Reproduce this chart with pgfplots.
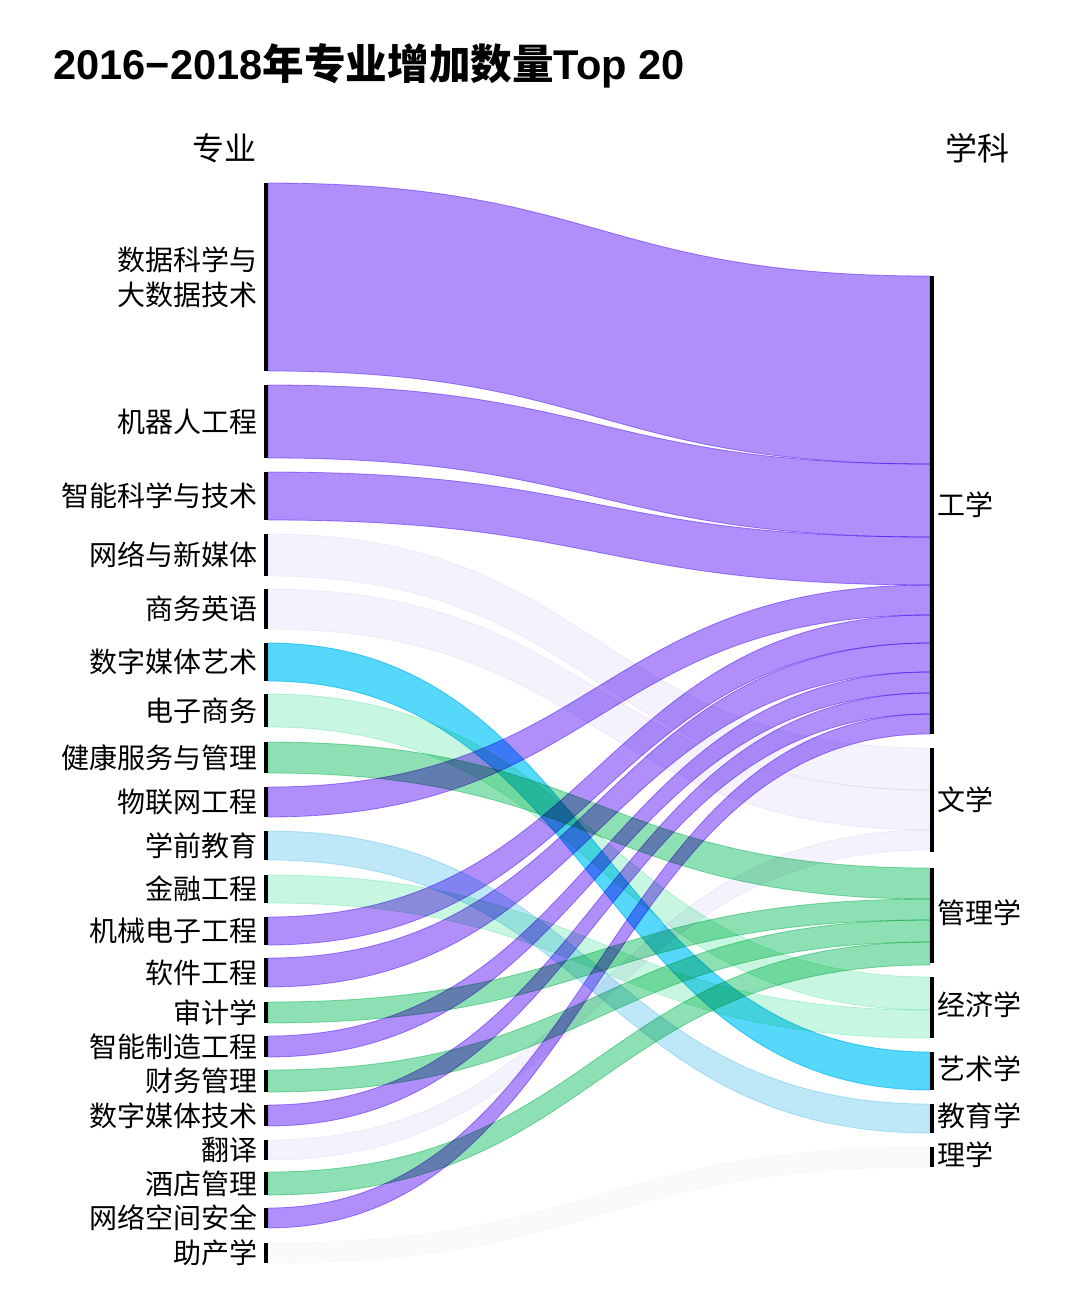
\documentclass[border=0pt]{standalone}
\usepackage{pgfplots}
\pgfplotsset{compat=1.18}
\usepgfplotslibrary{patchplots}
\usepackage{fontspec}
\setmainfont{Noto Sans CJK SC}
\newfontfamily\latinfont{Liberation Sans}

\definecolor{cgong}{HTML}{B08FFA}
\definecolor{cwen}{HTML}{F4F2FC}
\definecolor{cguan}{HTML}{8DE0B3}
\definecolor{cjing}{HTML}{C8F7E1}
\definecolor{cyi}{HTML}{56D8FA}
\definecolor{cjiao}{HTML}{BEE8F8}
\definecolor{cli}{HTML}{FAFAFC}

\pgfplotsset{
  colormap={mgong}{color=(cgong) color=(cgong)},
  colormap={mwen}{color=(cwen) color=(cwen)},
  colormap={mguan}{color=(cguan) color=(cguan)},
  colormap={mjing}{color=(cjing) color=(cjing)},
  colormap={myi}{color=(cyi) color=(cyi)},
  colormap={mjiao}{color=(cjiao) color=(cjiao)},
  colormap={mli}{color=(cli) color=(cli)},
}
\tikzset{lab/.style={font=\fontsize{14}{17.5}\selectfont, inner sep=0pt}}

% band: #1 colormap, #2 top y at the left node, #3 top y at the right node, #4 value (thickness in px)
\newcommand{\band}[4]{%
  \pgfmathsetmacro\xa{268}%
  \pgfmathsetmacro\xd{930}%
  \pgfmathsetmacro\xm{(\xa+\xd)/2}%
  \pgfmathsetmacro\lb{#2+#4}%
  \pgfmathsetmacro\rb{#3+#4}%
  \addplot[patch, patch type=coons, shader=flat, colormap name=#1,
           blend mode=multiply]
    coordinates {(\xa,#2) (\xm,#2) (\xm,#3) (\xd,#3)
                 (\xd,#3) (\xd,\rb) (\xd,\rb)
                 (\xm,\rb) (\xm,\lb) (\xa,\lb)
                 (\xa,\lb) (\xa,#2)};
}

\begin{document}
\begin{tikzpicture}
\begin{axis}[
  scale only axis, width=540pt, height=656.5pt,
  xmin=0, xmax=1080, ymin=0, ymax=1313, y dir=reverse,
  hide axis, clip=false,
  point meta min=0, point meta max=1,
]
% ---- flows: colormap, top at left, top at right, value
\band{mgong}{183}{276}{188}
\band{mgong}{385}{464}{73}
\band{mgong}{472}{537}{48}
\band{mwen}{534}{748}{42}
\band{mwen}{589}{790}{40}
\band{myi}{643}{1052}{38}
\band{mjing}{694}{977}{33}
\band{mguan}{742}{868}{31}
\band{mgong}{787}{585}{30}
\band{mjiao}{831}{1104}{29}
\band{mjing}{875}{1010}{28}
\band{mgong}{917}{615}{28}
\band{mgong}{958}{643}{29}
\band{mguan}{1002}{899}{21}
\band{mgong}{1036}{672}{21}
\band{mguan}{1070}{920}{22}
\band{mgong}{1105}{693}{21}
\band{mwen}{1140}{830}{20}
\band{mguan}{1172}{942}{23}
\band{mgong}{1208}{714}{20}
\band{mli}{1243}{1147}{20}

% ---- node bars
\addplot[black, line width=2pt, unbounded coords=jump, no markers] coordinates {
 (266,183) (266,371) (266,inf)
 (266,385) (266,458) (266,inf)
 (266,472) (266,520) (266,inf)
 (266,534) (266,576) (266,inf)
 (266,589) (266,629) (266,inf)
 (266,643) (266,681) (266,inf)
 (266,694) (266,727) (266,inf)
 (266,742) (266,773) (266,inf)
 (266,787) (266,817) (266,inf)
 (266,831) (266,860) (266,inf)
 (266,875) (266,903) (266,inf)
 (266,917) (266,945) (266,inf)
 (266,958) (266,987) (266,inf)
 (266,1002) (266,1023) (266,inf)
 (266,1036) (266,1057) (266,inf)
 (266,1070) (266,1092) (266,inf)
 (266,1105) (266,1126) (266,inf)
 (266,1140) (266,1160) (266,inf)
 (266,1172) (266,1195) (266,inf)
 (266,1208) (266,1228) (266,inf)
 (266,1243) (266,1263)
};
\addplot[black, line width=2pt, unbounded coords=jump, no markers] coordinates {
 (932,276) (932,734) (932,inf)
 (932,748) (932,852) (932,inf)
 (932,868) (932,963) (932,inf)
 (932,977) (932,1038) (932,inf)
 (932,1052) (932,1090) (932,inf)
 (932,1104) (932,1133) (932,inf)
 (932,1147) (932,1167)
};

% ---- labels
\node[lab, anchor=east, align=right] at (axis cs:258,277) {数据科学与\\大数据技术};
\node[lab, anchor=east] at (axis cs:258,421.5) {机器人工程};
\node[lab, anchor=east] at (axis cs:258,496) {智能科学与技术};
\node[lab, anchor=east] at (axis cs:258,555) {网络与新媒体};
\node[lab, anchor=east] at (axis cs:258,609) {商务英语};
\node[lab, anchor=east] at (axis cs:258,662) {数字媒体艺术};
\node[lab, anchor=east] at (axis cs:258,710.5) {电子商务};
\node[lab, anchor=east] at (axis cs:258,757.5) {健康服务与管理};
\node[lab, anchor=east] at (axis cs:258,802) {物联网工程};
\node[lab, anchor=east] at (axis cs:258,845.5) {学前教育};
\node[lab, anchor=east] at (axis cs:258,889) {金融工程};
\node[lab, anchor=east] at (axis cs:258,931) {机械电子工程};
\node[lab, anchor=east] at (axis cs:258,972.5) {软件工程};
\node[lab, anchor=east] at (axis cs:258,1012.5) {审计学};
\node[lab, anchor=east] at (axis cs:258,1046.5) {智能制造工程};
\node[lab, anchor=east] at (axis cs:258,1081) {财务管理};
\node[lab, anchor=east] at (axis cs:258,1115.5) {数字媒体技术};
\node[lab, anchor=east] at (axis cs:258,1150) {翻译};
\node[lab, anchor=east] at (axis cs:258,1183.5) {酒店管理};
\node[lab, anchor=east] at (axis cs:258,1218) {网络空间安全};
\node[lab, anchor=east] at (axis cs:258,1253) {助产学};
\node[lab, anchor=west] at (axis cs:937,505) {工学};
\node[lab, anchor=west] at (axis cs:937,800) {文学};
\node[lab, anchor=west] at (axis cs:937,913) {管理学};
\node[lab, anchor=west] at (axis cs:937,1005) {经济学};
\node[lab, anchor=west] at (axis cs:937,1069) {艺术学};
\node[lab, anchor=west] at (axis cs:937,1116) {教育学};
\node[lab, anchor=west] at (axis cs:937,1155) {理学};
\node[font=\fontsize{16}{19}\selectfont, inner sep=0pt, anchor=east] at (axis cs:257,148) {专业};
\node[font=\fontsize{16}{19}\selectfont, inner sep=0pt, anchor=west] at (axis cs:945,148) {学科};
\node[font=\fontsize{20.8}{24}\selectfont\bfseries, inner sep=0pt, anchor=base west] at (axis cs:53,79)
  {{\latinfont 2016−2018}年专业增加数量{\latinfont Top 20}};
\end{axis}
\path (current axis.south west) rectangle (current axis.north east);
\end{tikzpicture}
\end{document}
